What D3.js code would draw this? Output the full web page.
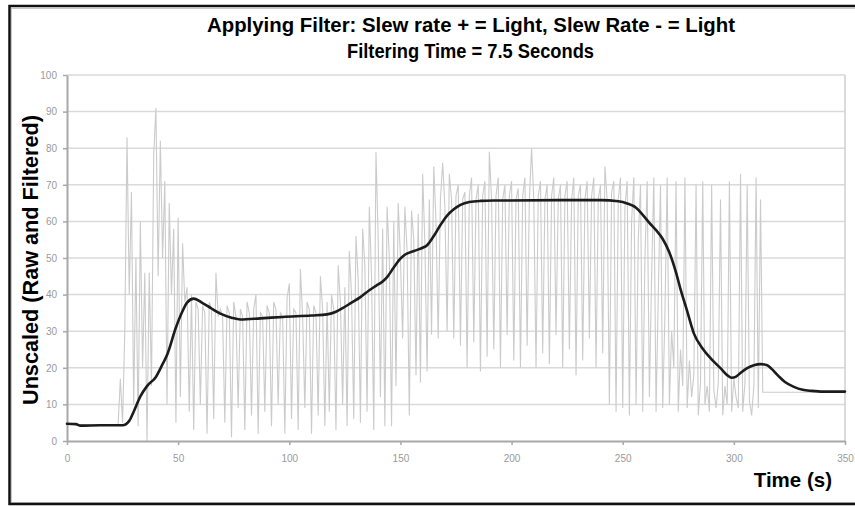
<!DOCTYPE html>
<html>
<head>
<meta charset="utf-8">
<script src="https://cdn.jsdelivr.net/npm/d3@7"></script>
<style>
  html, body { margin: 0; padding: 0; background: #fff; }
  svg { display: block; }
</style>
</head>
<body>
<div id="chart"></div>
<script>
// ---------- DATA ----------
const titleLines = ["Applying Filter: Slew rate + = Light, Slew Rate - = Light", "Filtering Time = 7.5 Seconds"];
const yAxisTitle = "Unscaled (Raw and Filtered)";
const xAxisTitle = "Time (s)";
const xTicks = [0, 50, 100, 150, 200, 250, 300, 350];
const yTicks = [0, 10, 20, 30, 40, 50, 60, 70, 80, 90, 100];

// Raw signal, one sample per second from t = 0 s
const rawValues = [
  4.8, 4.8, 4.8, 4.7, 4.6, 4.5, 4.4, 4.4, 4.4, 4.4,      // 0-9
  4.4, 4.4, 4.4, 4.4, 4.4, 4.4, 4.4, 4.4, 4.4, 4.4,      // 10-19
  4.4, 4.4, 4.4, 4.5, 17, 5, 30, 83, 40, 68,             // 20-29
  10, 50, 4, 60, 20, 46, 0, 46, 15, 78,                  // 30-39
  91, 45, 82, 50, 71, 10, 65, 40, 58, 5,                 // 40-49
  61, 12, 54, 38, 42, 8, 40, 3, 38, 36,                  // 50-59
  10, 37, 35, 2, 38, 36, 6, 46, 34, 36,                  // 60-69
  34, 5, 37, 35, 1, 38, 34, 9, 36, 34,                   // 70-79
  3, 38, 35, 7, 36, 40, 2, 35, 34, 8,                    // 80-89
  37, 35, 4, 38, 36, 10, 35, 34, 2, 39,                  // 90-99
  43, 6, 36, 35, 3, 47, 34, 9, 38, 36,                   // 100-109
  2, 37, 35, 7, 45, 36, 4, 38, 8, 40,                    // 110-119
  36, 3, 48, 38, 10, 42, 4, 52, 40, 6,                   // 120-129
  56, 44, 5, 58, 48, 8, 64, 45, 3, 79,                   // 130-139
  55, 12, 58, 4, 64, 50, 4, 60, 15, 65,                  // 140-149
  50, 28, 64, 52, 7, 63, 55, 18, 62, 16,                 // 150-159
  73, 54, 19, 66, 29, 75, 60, 28, 66, 76,                // 160-169
  64, 30, 73, 66, 28, 67, 70, 26, 66, 68,                // 170-179
  20, 67, 72, 27, 66, 70, 19, 67, 71, 23,                // 180-189
  79, 66, 25, 67, 72, 20, 66, 70, 29, 67,                // 190-199
  71, 22, 66, 69, 20, 67, 72, 26, 66, 80,                // 200-209
  66, 20, 67, 71, 24, 66, 70, 21, 67, 72,                // 210-219
  29, 66, 70, 20, 67, 71, 25, 66, 72, 18,                // 220-229
  67, 70, 22, 66, 71, 28, 67, 72, 20, 66,                // 230-239
  70, 24, 75, 66, 10, 68, 71, 8, 66, 72,                 // 240-249
  9, 64, 71, 7, 60, 72, 10, 55, 70, 8,                   // 250-259
  50, 71, 12, 45, 72, 8, 40, 70, 9, 35,                  // 260-269
  72, 10, 30, 20, 71, 8, 25, 15, 72, 9,                  // 270-279
  22, 12, 18, 70, 7, 16, 71, 10, 15, 8,                  // 280-289
  70, 14, 9, 16, 66, 7, 15, 10, 71, 8,                   // 290-299
  17, 12, 9, 73, 8, 16, 70, 11, 7, 15,                   // 300-309
  72, 9, 66, 13.3, 13.3, 13.3, 13.3, 13.3, 13.3, 13.3,   // 310-319
  13.3, 13.3, 13.3, 13.3, 13.3, 13.3, 13.3, 13.3, 13.3, 13.3, // 320-329
  13.3, 13.3, 13.3, 13.3, 13.3, 13.3, 13.3, 13.3, 13.3, 13.3, // 330-339
  13.3, 13.3, 13.3, 13.3, 13.3, 13.3, 13.3, 13.3, 13.3, 13.3, // 340-349
  13.3                                                    // 350
];

// Filtered signal (time in s, value)
const filteredTime = [0, 4, 6, 15, 25, 28, 30, 33, 36, 40, 43, 45, 49, 52, 54, 57, 61, 65, 69, 74, 78, 87, 97, 110, 117, 121, 124, 128, 132, 136, 139, 142, 144, 147, 150, 152, 156, 160, 162, 165, 168, 171, 174, 177, 181, 186, 192, 222, 240, 248, 252, 256, 259, 262, 265, 268, 271, 274, 276, 279, 282, 286, 290, 294, 297, 299, 301, 303, 306, 309, 312, 315, 317, 320, 323, 327, 331, 335, 340, 350];
const filteredValues = [4.7, 4.6, 4.2, 4.3, 4.3, 5.5, 8, 12.2, 15, 17.5, 21, 23.5, 31, 35.5, 37.8, 38.9, 37.7, 36.2, 34.8, 33.7, 33.2, 33.5, 33.9, 34.3, 34.6, 35.3, 36.3, 37.8, 39.3, 41.2, 42.4, 43.6, 44.8, 47.4, 49.8, 50.9, 51.9, 52.8, 53.5, 56, 59, 61.6, 63.3, 64.5, 65.3, 65.6, 65.7, 65.8, 65.8, 65.5, 64.9, 63.7, 61.8, 59.6, 57.6, 55.2, 51.5, 46, 41.5, 35.5, 29.4, 25.2, 22.3, 19.9, 18, 17.3, 17.6, 18.6, 19.9, 20.7, 21, 20.7, 19.7, 17.8, 16.1, 14.8, 14, 13.7, 13.5, 13.5];

// ---------- CHART ----------
const W = 855, H = 506;
const FONT = "'Liberation Sans', Arial, sans-serif";
const svg = d3.select("#chart").append("svg")
  .attr("width", W).attr("height", H)
  .style("font-family", FONT);

svg.append("rect").attr("width", W).attr("height", H).attr("fill", "#fff");

const x = d3.scaleLinear().domain([0, 350]).range([67, 845]);
const y = d3.scaleLinear().domain([0, 100]).range([441, 75]);

// gridlines
svg.append("g").selectAll("line").data(yTicks.filter(d => d > 0)).join("line")
  .attr("x1", x(0)).attr("x2", x(350))
  .attr("y1", d => y(d)).attr("y2", d => y(d))
  .attr("stroke", "#dadada").attr("stroke-width", 1.5);

// right border of plot area
svg.append("line").attr("x1", x(350)).attr("x2", x(350))
  .attr("y1", y(100)).attr("y2", y(0))
  .attr("stroke", "#cfcfcf").attr("stroke-width", 1.5);

// raw series
const raw = rawValues.map((v, i) => [i, v]);
svg.append("path").datum(raw)
  .attr("fill", "none").attr("stroke", "#cbcbcb").attr("stroke-width", 1.1)
  .attr("d", d3.line().x(d => x(d[0])).y(d => y(d[1])));

// axes
const yAxis = svg.append("g").attr("transform", `translate(${x(0)},0)`)
  .call(d3.axisLeft(y).tickValues(yTicks).tickSize(4).tickSizeOuter(0).tickPadding(6));
const xAxis = svg.append("g").attr("transform", `translate(0,${y(0)})`)
  .call(d3.axisBottom(x).tickValues(xTicks).tickSize(4).tickSizeOuter(0).tickPadding(10));
[yAxis, xAxis].forEach(g => {
  g.select(".domain").attr("stroke", "#a8a8a8").attr("stroke-width", 2);
  g.selectAll(".tick line").attr("stroke", "#a8a8a8").attr("stroke-width", 1.5);
  g.selectAll(".tick text").attr("fill", "#9a9a9a").style("font-size", "10px")
    .style("font-family", FONT);
});

// filtered series
const filt = filteredTime.map((t, i) => [t, filteredValues[i]]);
svg.append("path").datum(filt)
  .attr("fill", "none").attr("stroke", "#1c1c1c").attr("stroke-width", 2.6)
  .attr("stroke-linejoin", "round").attr("stroke-linecap", "round")
  .attr("d", d3.line().curve(d3.curveMonotoneX).x(d => x(d[0])).y(d => y(d[1])));

// titles
svg.append("text").attr("x", 471).attr("y", 32).attr("text-anchor", "middle")
  .style("font-size", "20px").style("font-weight", "bold").attr("fill", "#000")
  .attr("textLength", 528).attr("lengthAdjust", "spacingAndGlyphs")
  .text(titleLines[0]);
svg.append("text").attr("x", 470.5).attr("y", 58).attr("text-anchor", "middle")
  .style("font-size", "20px").style("font-weight", "bold").attr("fill", "#000")
  .attr("textLength", 247).attr("lengthAdjust", "spacingAndGlyphs")
  .text(titleLines[1]);

svg.append("text").attr("transform", "translate(38,260) rotate(-90)")
  .attr("text-anchor", "middle")
  .style("font-size", "21.5px").style("font-weight", "bold").attr("fill", "#000")
  .attr("textLength", 290).attr("lengthAdjust", "spacingAndGlyphs")
  .text(yAxisTitle);

svg.append("text").attr("x", 832).attr("y", 487).attr("text-anchor", "end")
  .style("font-size", "20.5px").style("font-weight", "bold").attr("fill", "#000")
  .text(xAxisTitle);

// outer frame
svg.append("rect").attr("x", 11.5).attr("y", 8.5).attr("width", 860).attr("height", 494)
  .attr("fill", "none").attr("stroke", "#c8c8c8").attr("stroke-width", 1);
svg.append("rect").attr("x", 9.5).attr("y", 6).attr("width", 860).attr("height", 498)
  .attr("fill", "none").attr("stroke", "#111").attr("stroke-width", 2.5);
</script>
</body>
</html>
